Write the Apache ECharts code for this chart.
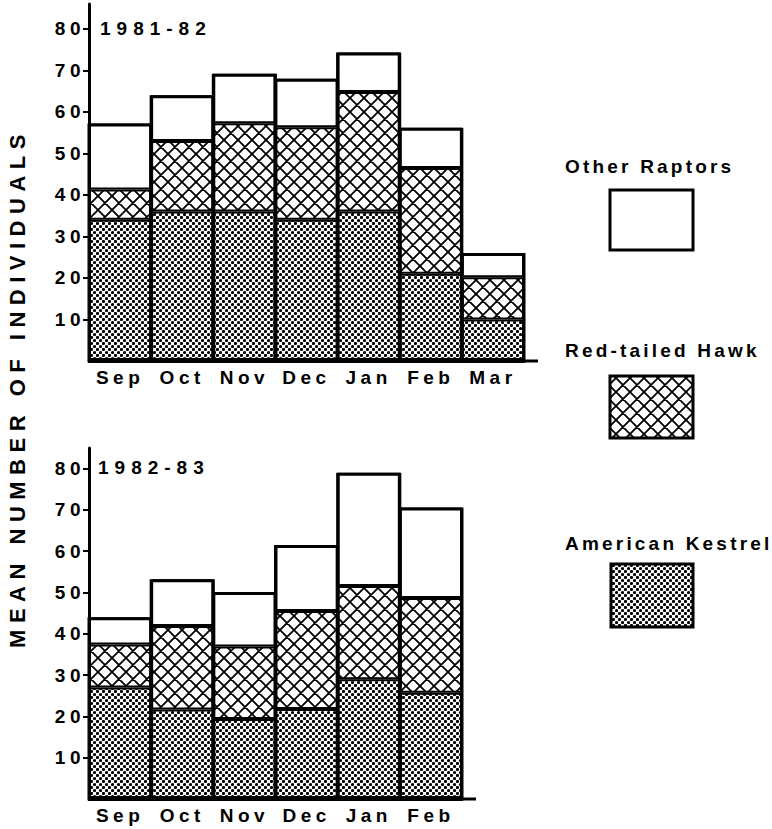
<!DOCTYPE html>
<html lang="en">
<head>
  <meta charset="UTF-8">
  <title>Raptors</title>
  <script src="https://cdn.jsdelivr.net/npm/echarts@6/dist/echarts.min.js"></script>
  <style>
    html, body { margin: 0; padding: 0; background: #fff; }
    #main { width: 772px; height: 829px; letter-spacing: 4.5px; }
  </style>
</head>
<body>
  <div id="main"></div>
  <script>
    // 1981-82 season
    const months1 = ['Sep', 'Oct', 'Nov', 'Dec', 'Jan', 'Feb', 'Mar']
    const kestrel1 = [34, 36, 36, 34, 36, 21, 10]
    const redTail1 = [7.3, 17, 21.3, 22.3, 28.8, 25.5, 10.2]
    const other1 = [15.9, 11, 11.9, 11.7, 9.5, 9.7, 5.8]

    // 1982-83 season
    const months2 = ['Sep', 'Oct', 'Nov', 'Dec', 'Jan', 'Feb']
    const kestrel2 = [27, 21.7, 19.4, 21.8, 29, 25.7]
    const redTail2 = [10.4, 20.2, 17.5, 23.7, 22.6, 23]
    const other2 = [6.6, 11.3, 13.2, 16, 27.4, 21.9]

    const yTicks = [10, 20, 30, 40, 50, 60, 70, 80]
    const FONT = 'Liberation Sans, Arial, sans-serif'
    const legendNames = ['Other Raptors', 'Red-tailed Hawk', 'American Kestrel']

    // bar totals, used only for the heavy outline round each column
    const total1 = kestrel1.map((v, i) => v + redTail1[i] + other1[i])
    const total2 = kestrel2.map((v, i) => v + redTail2[i] + other2[i])

    // fill patterns
    function dotPattern() {
      const s = 6
      const c = document.createElement('canvas')
      c.width = s; c.height = s
      const ctx = c.getContext('2d')
      ctx.fillStyle = '#fff'
      ctx.fillRect(0, 0, s, s)
      ctx.fillStyle = '#000'
      ;[[1.5, 1.5], [4.5, 4.5]].forEach(([x, y]) => {
        ctx.beginPath()
        ctx.arc(x, y, 1.6, 0, Math.PI * 2)
        ctx.fill()
      })
      return { image: c, repeat: 'repeat', imageWidth: s, imageHeight: s }
    }
    function hatchPattern() {
      const s = 14
      const c = document.createElement('canvas')
      c.width = s; c.height = s
      const ctx = c.getContext('2d')
      ctx.fillStyle = '#fff'
      ctx.fillRect(0, 0, s, s)
      ctx.strokeStyle = '#000'
      ctx.lineWidth = 1.8
      ctx.beginPath()
      for (const o of [-s, 0, s]) {
        ctx.moveTo(o - 2, -2); ctx.lineTo(o + s + 2, s + 2)
        ctx.moveTo(o + s + 2, -2); ctx.lineTo(o - 2, s + 2)
      }
      ctx.stroke()
      return { image: c, repeat: 'repeat', imageWidth: s, imageHeight: s }
    }
    const dots = dotPattern()
    const hatch = hatchPattern()

    const grids = [
      { left: 89, top: 4, width: 435, height: 357 },
      { left: 89, top: 448, width: 373, height: 351 }
    ]

    function bars(idx, name, data, color) {
      return {
        name,
        type: 'bar',
        stack: 'season' + idx,
        xAxisIndex: idx,
        yAxisIndex: idx,
        data,
        barCategoryGap: '0%',
        itemStyle: { color, borderColor: '#000', borderWidth: 2 }
      }
    }
    // transparent column a bit wider than the band so its border sits on the band edges
    function outline(idx, data, n) {
      return {
        type: 'bar',
        xAxisIndex: idx + 2,
        yAxisIndex: idx,
        data,
        silent: true,
        barWidth: grids[idx].width / n + 3,
        itemStyle: { color: 'rgba(0,0,0,0)', borderColor: '#000', borderWidth: 3 }
      }
    }

    function xAxisOf(idx, data, show) {
      return {
        type: 'category',
        gridIndex: idx,
        data,
        show,
        axisLine: { lineStyle: { color: '#000', width: 3 } },
        axisTick: { show: false },
        axisLabel: { interval: 0, color: '#000', fontSize: 19, fontWeight: 'bold', fontFamily: FONT, margin: 7 }
      }
    }
    function yAxisOf(idx, max) {
      return {
        type: 'value',
        gridIndex: idx,
        min: 0,
        max,
        splitLine: { show: false },
        axisLine: { show: true, lineStyle: { color: '#000', width: 3 } },
        axisTick: { show: true, length: 6, lineStyle: { color: '#000', width: 2 }, customValues: yTicks },
        axisLabel: { customValues: yTicks, color: '#000', fontSize: 19, fontWeight: 'bold', fontFamily: FONT, margin: 4 }
      }
    }

    const legendItems = [
      { ty: 166, box: [610, 190, 83, 60], fill: '#fff' },
      { ty: 350, box: [610, 376, 83, 62], fill: hatch },
      { ty: 543, box: [611, 564, 82, 63], fill: dots }
    ]

    const graphic = [
      { type: 'text', left: 100, top: 19, style: { text: '1981-82', fill: '#000', font: 'bold 19px ' + FONT } },
      { type: 'text', left: 98, top: 458, style: { text: '1982-83', fill: '#000', font: 'bold 19px ' + FONT } },
      {
        type: 'text', x: 17, y: 388, rotation: Math.PI / 2,
        style: { text: 'MEAN NUMBER OF INDIVIDUALS', fill: '#000', font: 'bold 22px ' + FONT, align: 'center', verticalAlign: 'middle' }
      },
      // axis line runs a little past the last bar
      { type: 'line', shape: { x1: 520, y1: 361, x2: 538, y2: 361 }, style: { stroke: '#000', lineWidth: 3 } },
      { type: 'line', shape: { x1: 458, y1: 799, x2: 476, y2: 799 }, style: { stroke: '#000', lineWidth: 3 } }
    ]
    legendItems.forEach((it, i) => {
      graphic.push({ type: 'text', x: 565, y: it.ty, style: { text: legendNames[i], fill: '#000', font: 'bold 19px ' + FONT, verticalAlign: 'middle' } })
      graphic.push({
        type: 'rect',
        shape: { x: it.box[0], y: it.box[1], width: it.box[2], height: it.box[3] },
        style: { fill: it.fill, stroke: '#000', lineWidth: 3 }
      })
    })

    const chart = echarts.init(document.getElementById('main'), null, { renderer: 'svg' })

    const option = {
      animation: false,
      backgroundColor: '#fff',
      grid: grids,
      xAxis: [
        xAxisOf(0, months1, true), xAxisOf(1, months2, true),
        xAxisOf(0, months1, false), xAxisOf(1, months2, false)
      ],
      yAxis: [yAxisOf(0, 86), yAxisOf(1, 85)],
      series: [
        bars(0, 'American Kestrel', kestrel1, dots),
        bars(0, 'Red-tailed Hawk', redTail1, hatch),
        bars(0, 'Other Raptors', other1, '#fff'),
        outline(0, total1, months1.length),
        bars(1, 'American Kestrel', kestrel2, dots),
        bars(1, 'Red-tailed Hawk', redTail2, hatch),
        bars(1, 'Other Raptors', other2, '#fff'),
        outline(1, total2, months2.length)
      ],
      graphic
    }

    chart.setOption(option)

    // letter spacing differs a little between the kinds of text
    function spaceText() {
      document.querySelectorAll('#main text').forEach(t => {
        const s = t.textContent
        if (s.indexOf('MEAN') === 0) t.style.letterSpacing = '6.5px'
        else if (/^198/.test(s)) t.style.letterSpacing = '6px'
        else if (legendNames.indexOf(s) >= 0) t.style.letterSpacing = '3.2px'
      })
    }
    spaceText()
    chart.on('finished', spaceText)
  </script>
</body>
</html>
